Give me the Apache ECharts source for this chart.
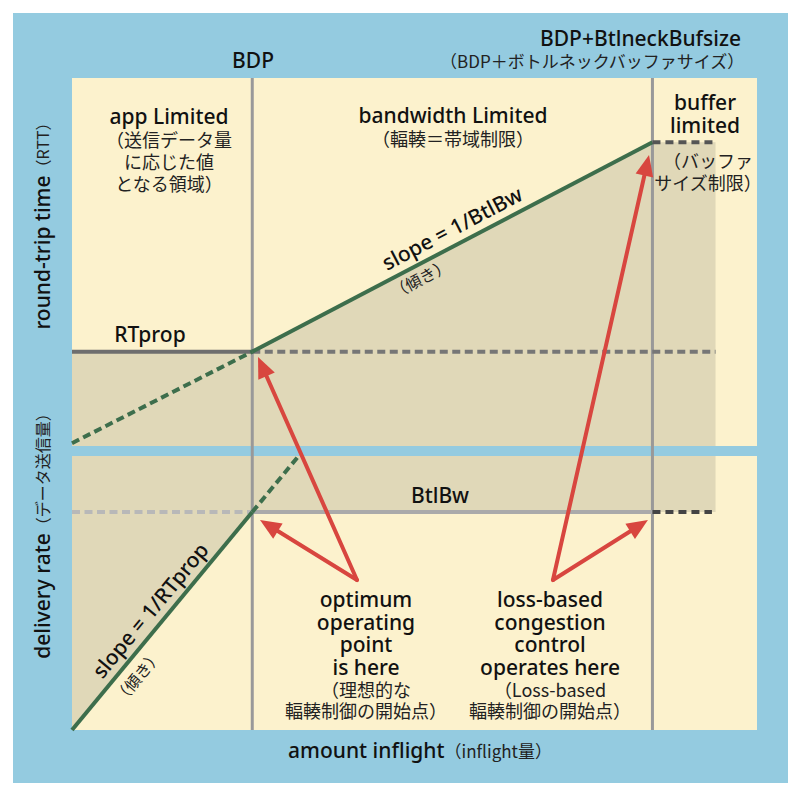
<!DOCTYPE html>
<html><head><meta charset="utf-8">
<script src="https://cdn.jsdelivr.net/npm/echarts@6/dist/echarts.min.js"></script>
<style>
html,body{margin:0;padding:0;background:#fff;}
#wrap{position:relative;width:800px;height:797px;background:#fff;}
#frame{position:absolute;left:13px;top:13px;width:775px;height:770px;background:#94CBE0;}
#chart{position:absolute;left:0;top:0;width:800px;height:797px;}
</style></head><body>
<div id="wrap"><div id="frame"></div><div id="chart"></div></div>
<script>
// x: amount inflight (BDP = 1); top y: RTT (RTprop = 1); bottom y: delivery rate (BtlBw = 1)
const xRange = [0, 3.8];
const rttRange = [0, 3.9];
const rateRange = [0, 1.257];
const BDP = 1;
const BDP_BUF = 3.22;

const rttShade = [[0, 1], [1, 1], [3.22, 3.22], [3.57, 3.22]];
const rtpropSolid = [[0, 1], [1, 1]];
const rtpropDashed = [[1, 1], [3.57, 1]];
const rttSlopeSolid = [[1, 1], [3.22, 3.22]];
const rttSlopeDashed = [[0, 0.03], [1, 1]];
const bufferCap = [[3.22, 3.22], [3.57, 3.22]];

const rateShade = [[0, 0], [1, 1], [3.57, 1]];
const btlbwDashedLeft = [[0, 1], [1, 1]];
const btlbwSolid = [[1, 1], [3.22, 1]];
const btlbwDashedRight = [[3.22, 1], [3.55, 1]];
const rateSlopeSolid = [[0, 0], [1, 1]];
const rateSlopeDashed = [[1, 1], [1.257, 1.257]];

const markerLines = [BDP, BDP_BUF];
// arrows: from [gridIndex, x, y] to [gridIndex, x, y]
const arrows = [
  [[1, 1.581, 0.688], [0, 1.032, 0.943]],
  [[1, 1.581, 0.688], [1, 1.043, 0.963]],
  [[1, 2.668, 0.688], [0, 3.201, 3.084]],
  [[1, 2.668, 0.688], [1, 3.195, 0.963]]
];

const CREAM = '#FCF2CD', SHADE = '#E0D8B8', GREEN = '#3D6E4C', RED = '#D8463F';
const EN = '"Noto Sans", "Noto Sans CJK JP", sans-serif';
const JP = '"Noto Sans CJK JP", "Noto Sans", sans-serif';

const chart = echarts.init(document.getElementById('chart'), null, {renderer: 'svg'});

function hiddenAxis(idx, range) {
  return {type: 'value', gridIndex: idx, min: range[0], max: range[1], show: false};
}
function ln(data, xi, color, width, dash, z) {
  return {
    type: 'line', xAxisIndex: xi, yAxisIndex: xi, data: data, symbol: 'none', silent: true,
    z: z || 3, lineStyle: {color: color, width: width, type: dash || 'solid', cap: 'butt'}
  };
}

const series = [
  {type: 'line', xAxisIndex: 0, yAxisIndex: 0, data: rttShade, symbol: 'none', silent: true, z: 1,
   lineStyle: {width: 0}, areaStyle: {color: SHADE, opacity: 1, origin: 'start'}},
  {type: 'line', xAxisIndex: 1, yAxisIndex: 1, data: rateShade, symbol: 'none', silent: true, z: 1,
   lineStyle: {width: 0}, areaStyle: {color: SHADE, opacity: 1, origin: 'end'}},
  ln([[markerLines[0], 0], [markerLines[0], 1]], 2, '#999999', 3, 'solid', 2),
  ln([[markerLines[1], 0], [markerLines[1], 1]], 2, '#999999', 3, 'solid', 2),
  ln(rtpropSolid, 0, '#6E6E6E', 4),
  ln(rtpropDashed, 0, '#767676', 4, [8, 4.5]),
  ln(rttSlopeDashed, 0, GREEN, 4, [8, 4.5]),
  ln(rttSlopeSolid, 0, GREEN, 4),
  ln(bufferCap, 0, '#555555', 4, [8, 5]),
  ln(btlbwDashedLeft, 1, '#B8B8B8', 4, [8, 4.5]),
  ln(btlbwSolid, 1, '#AAAAAA', 4),
  ln(btlbwDashedRight, 1, '#444444', 4, [8, 5]),
  ln(rateSlopeSolid, 1, GREEN, 4),
  ln(rateSlopeDashed, 1, GREEN, 4, [8, 4.5])
];

chart.setOption({
  backgroundColor: 'transparent',
  animation: false,
  grid: [
    {left: 72, right: 43, top: 78, height: 368, show: true, backgroundColor: CREAM, borderWidth: 0},
    {left: 72, right: 43, top: 456, height: 274, show: true, backgroundColor: CREAM, borderWidth: 0},
    {left: 72, right: 43, top: 78, height: 652, show: false}
  ],
  xAxis: [hiddenAxis(0, xRange), hiddenAxis(1, xRange), hiddenAxis(2, xRange)],
  yAxis: [hiddenAxis(0, rttRange), hiddenAxis(1, rateRange), hiddenAxis(2, [0, 1])],
  series: series
});

const RICH = {
  a: {font: '500 21px ' + EN, fill: '#111', lineHeight: 22.5, align: 'center'},
  b: {font: '400 18px ' + JP, fill: '#222', lineHeight: 22, align: 'center'},
  c: {font: '400 18px ' + JP, fill: '#222', lineHeight: 21, align: 'center'},
  s: {font: '400 16px ' + JP, fill: '#222', align: 'center'},
  t: {font: '400 17px ' + JP, fill: '#222', align: 'center'}
};
// block: lines = [[styleKey, text], ...]; (x, yTop) = centre x, top of the first line
function block(lines, x, yTop, opts) {
  opts = opts || {};
  return {
    type: 'text', x: x, y: yTop, z: 50, silent: true,
    rotation: opts.rot ? opts.rot * Math.PI / 180 : 0,
    style: {
      text: lines.map(l => '{' + l[0] + '|' + l[1] + '}').join(opts.inline ? '' : '\n'),
      x: 0, y: 0, textAlign: opts.align || 'center', textVerticalAlign: opts.valign || 'top', rich: RICH
    }
  };
}

const g = [];
// titles
g.push(block([['a', 'BDP']], 253, 49));
g.push(block([['a', 'BDP+BtlneckBufsize']], 741, 27, {align: 'right'}));
g.push(block([['t', '（BDP＋ボトルネックバッファサイズ）']], 745, 52, {align: 'right'}));
// regions
g.push(block([['a', 'app Limited'], ['b', '（送信データ量'], ['b', 'に応じた値'], ['b', 'となる領域）']], 169, 105));
g.push(block([['a', 'bandwidth Limited'], ['b', '（輻輳＝帯域制限）']], 453, 104));
g.push(block([['a', 'buffer'], ['a', 'limited']], 705, 91));
g.push(block([['b', '（バッファ'], ['b', 'サイズ制限）']], 708, 149));
g.push(block([['a', 'RTprop']], 150, 323));
g.push(block([['a', 'slope = 1/BtlBw']], 452, 228, {rot: 27.6, valign: 'middle'}));
g.push(block([['s', '（傾き）']], 420, 278, {rot: 27.6, valign: 'middle'}));
g.push(block([['a', 'BtlBw']], 440, 484));
g.push(block([['a', 'slope = 1/RTprop']], 150, 610, {rot: 50.3, valign: 'middle'}));
g.push(block([['s', '（傾き）']], 137, 676, {rot: 50.3, valign: 'middle'}));
// annotations
g.push(block([['a', 'optimum'], ['a', 'operating'], ['a', 'point'], ['a', 'is here'],
              ['c', '（理想的な'], ['c', '輻輳制御の開始点）']], 366, 588));
g.push(block([['a', 'loss-based'], ['a', 'congestion'], ['a', 'control'], ['a', 'operates here'],
              ['c', '（Loss-based'], ['c', '輻輳制御の開始点）']], 550, 588));
// axis titles
g.push(block([['a', 'amount inflight'], ['t', '（inflight量）']], 420, 750, {inline: true, valign: 'middle'}));
g.push(block([['a', 'round-trip time'], ['s', '（RTT）']], 42, 222, {inline: true, valign: 'middle', rot: 90}));
g.push(block([['a', 'delivery rate'], ['s', '（データ送信量）']], 42, 532, {inline: true, valign: 'middle', rot: 90}));

// arrows, positioned through the grids' scales
arrows.forEach(a => {
  const p0 = chart.convertToPixel({gridIndex: a[0][0]}, [a[0][1], a[0][2]]);
  const p1 = chart.convertToPixel({gridIndex: a[1][0]}, [a[1][1], a[1][2]]);
  const dx = p1[0] - p0[0], dy = p1[1] - p0[1];
  const len = Math.hypot(dx, dy), ux = dx / len, uy = dy / len;
  const L = 21, hw = 9;
  const bx = p1[0] - ux * L, by = p1[1] - uy * L;
  g.push({type: 'line', z: 40, silent: true,
    shape: {x1: p0[0], y1: p0[1], x2: bx + ux * 3, y2: by + uy * 3},
    style: {stroke: RED, lineWidth: 4, lineCap: 'round'}});
  g.push({type: 'polygon', z: 41, silent: true,
    shape: {points: [[p1[0], p1[1]], [bx - uy * hw, by + ux * hw], [bx + uy * hw, by - ux * hw]]},
    style: {fill: RED}});
});

chart.setOption({graphic: {elements: g}});
</script>
</body></html>
